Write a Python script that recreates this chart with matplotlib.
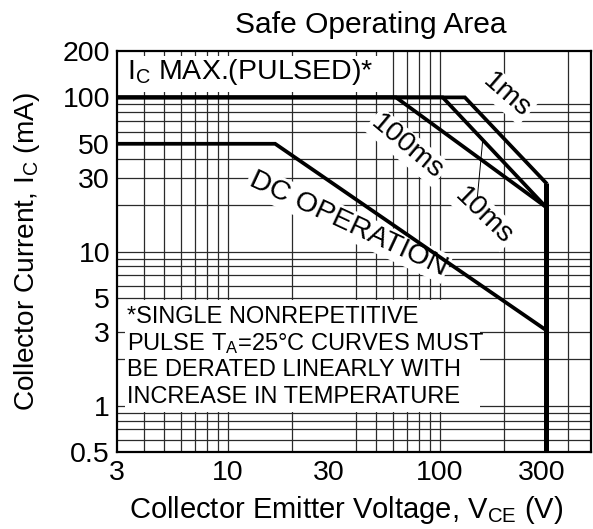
import numpy as np
import matplotlib
matplotlib.use('Agg')
import matplotlib.pyplot as plt
from matplotlib.patches import Rectangle
from matplotlib.ticker import NullLocator

plt.rcParams['font.family'] = ['Liberation Sans', 'DejaVu Sans']
plt.rcParams['mathtext.fontset'] = 'custom'
plt.rcParams['mathtext.rm'] = 'Liberation Sans'
plt.rcParams['mathtext.it'] = 'Liberation Sans'

# ---- data (VCE in volts, IC in mA) ----
dc_v = [3, 16.7, 315]
dc_i = [50, 50, 3.1]
ms100_v = [3, 62, 315]
ms100_i = [100, 100, 19.5]
ms10_v = [3, 103, 315]
ms10_i = [100, 100, 19.5]
ms1_v = [3, 131, 315]
ms1_i = [100, 100, 28]
vceo_v = [315, 315]
vceo_i = [28, 0.5]

x_ticks = [3, 10, 30, 100, 300]
x_tick_labels = ['3', '10', '30', '100', '300']
y_ticks = [0.5, 1, 3, 5, 10, 30, 50, 100, 200]
y_tick_labels = ['0.5', '1', '3', '5', '10', '30', '50', '100', '200']

grid_x = [4, 5, 6, 7, 8, 9, 10, 20, 40, 50, 60, 70, 80, 90, 100, 200, 400]
grid_y = [0.6, 0.7, 0.8, 0.9, 1, 2, 3, 5, 6, 7, 8, 9, 10, 20, 30, 40, 60, 70, 80, 90]

fig = plt.figure(figsize=(5.93, 5.29), dpi=100)
ax = fig.add_axes([117/593, 77/529, 474/593, 401/529])
ax.set_xscale('log')
ax.set_yscale('log')
ax.set_xlim(3, 515)
ax.set_ylim(0.5, 200)

# grid
for gx in grid_x:
    ax.axvline(gx, color='#2a2a2a', lw=0.9, zorder=1)
for gy in grid_y:
    ax.axhline(gy, color='#2a2a2a', lw=0.9, zorder=1)

# white boxes behind texts
ax.add_patch(Rectangle((0.0, 0.898), 0.565, 0.0895, transform=ax.transAxes,
                       facecolor='white', edgecolor='none', zorder=2))
ax.add_patch(Rectangle((0.017, 0.099), 0.749, 0.281, transform=ax.transAxes,
                       facecolor='white', edgecolor='none', zorder=2))

# curves
lw = 2.7
ax.plot(dc_v, dc_i, color='black', lw=lw, zorder=6, solid_joinstyle='miter')
ax.plot(ms100_v, ms100_i, color='black', lw=lw, zorder=6, solid_joinstyle='miter')
ax.plot(ms10_v, ms10_i, color='black', lw=lw, zorder=6, solid_joinstyle='miter')
ax.plot(ms1_v, ms1_i, color='black', lw=lw, zorder=6, solid_joinstyle='miter')
ax.plot(vceo_v, vceo_i, color='black', lw=3.6, zorder=6, solid_capstyle='butt')

# labels in boxes
ax.text(0.021, 0.948, r'I$_\mathregular{C}$ MAX.(PULSED)*', transform=ax.transAxes,
        fontsize=20.5, ha='left', va='center', zorder=3)
note_lines = ['*SINGLE NONREPETITIVE',
              r'PULSE T$_\mathregular{A}$=25°C CURVES MUST',
              'BE DERATED LINEARLY WITH',
              'INCREASE IN TEMPERATURE']
for k, line in enumerate(note_lines):
    ax.text(0.021, 0.337 - k*0.0665, line, transform=ax.transAxes,
            fontsize=17, ha='left', va='center', zorder=3)

# curve labels
bb = dict(facecolor='white', edgecolor='none', pad=1.5)
ax.text(206, 103, '1ms', rotation=-41, fontsize=20.5, ha='center', va='center',
        rotation_mode='anchor', bbox=bb, zorder=4)
ax.text(69.8, 47.6, '100ms', rotation=-40, fontsize=20.5, ha='center', va='center',
        rotation_mode='anchor', bbox=bb, zorder=4)
ax.text(161, 17.0, '10ms', rotation=-44, fontsize=20.5, ha='center', va='center',
        rotation_mode='anchor', bbox=bb, zorder=4)
ax.text(36.8, 15.1, 'DC OPERATION', rotation=-25, fontsize=20.5, ha='center', va='center',
        rotation_mode='anchor', bbox=bb, zorder=4)

# leader line for 10ms
lx = 159
ly = 10 ** np.interp(np.log10(lx), np.log10(ms10_v), np.log10(ms10_i))
ax.plot([150, lx], [22.5, ly], color='black', lw=0.7, zorder=5)

# axes styling
ax.set_xticks(x_ticks)
ax.set_xticklabels(x_tick_labels)
ax.set_yticks(y_ticks)
ax.set_yticklabels(y_tick_labels)
ax.xaxis.set_minor_locator(NullLocator())
ax.yaxis.set_minor_locator(NullLocator())
ax.tick_params(axis='both', length=0, labelsize=20.5)
ax.tick_params(axis='x', pad=6)
ax.tick_params(axis='y', pad=5)
for s in ax.spines.values():
    s.set_linewidth(1.6)
    s.set_color('black')
    s.set_zorder(7)

fig.text(371/593, 1 - 33/529, 'Safe Operating Area', fontsize=21.6,
         ha='center', va='baseline')
fig.text(346/593, 1 - 518/529, r'Collector Emitter Voltage, V$_\mathregular{CE}$ (V)',
         fontsize=21, ha='center', va='baseline')
fig.text(27/593, 1 - 252/529, r'Collector Current, I$_\mathregular{C}$ (mA)',
         fontsize=20.2, ha='center', va='center', rotation=90)

fig.savefig('out.png', dpi=100)
